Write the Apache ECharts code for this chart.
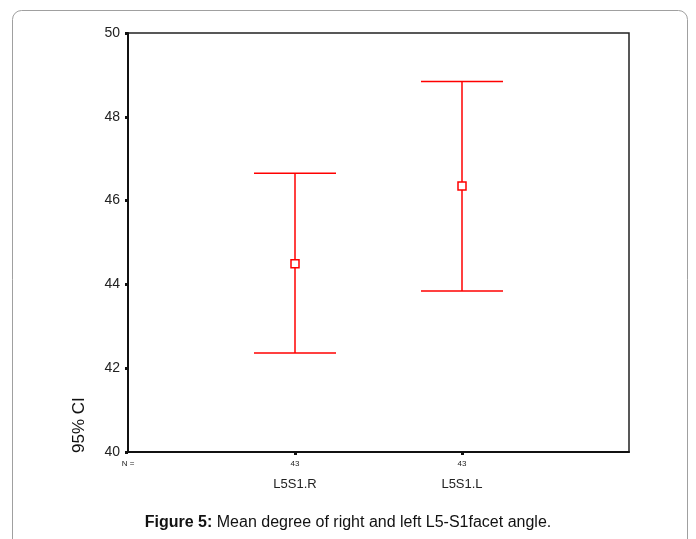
<!DOCTYPE html>
<html>
<head>
<meta charset="utf-8">
<script src="https://cdn.jsdelivr.net/npm/echarts@6/dist/echarts.min.js"></script>
<style>
html,body{margin:0;padding:0;background:#fff;}
#c{width:696px;height:539px;}
</style>
</head>
<body>
<div id="c"></div>
<script>
const categories = ['L5S1.R', 'L5S1.L'];
const means = [44.49, 46.35];
const lower = [42.36, 43.84];
const upper = [46.65, 48.84];
const nValues = [43, 43];
const yMin = 40, yMax = 50, yStep = 2;

const FONT = '"Liberation Sans", Arial, sans-serif';
const xCats = [''].concat(categories).concat(['']);

const chart = echarts.init(document.getElementById('c'), null, {renderer: 'canvas'});

const errData = categories.map((c, i) => [i + 1, lower[i], upper[i]]);
const meanData = categories.map((c, i) => [i + 1, means[i]]);

chart.setOption({
  animation: false,
  backgroundColor: '#fff',
  textStyle: {fontFamily: FONT},
  title: {
    text: '{b|Figure 5:} Mean degree of right and left L5-S1facet angle.',
    left: 'center',
    top: 510,
    textStyle: {
      fontFamily: FONT, fontSize: 16, fontWeight: 'normal', color: '#111',
      rich: {b: {fontFamily: FONT, fontSize: 16, fontWeight: 'bold', color: '#111'}}
    }
  },
  graphic: [
    {
      type: 'rect', silent: true,
      shape: {x: 12.5, y: 10.5, width: 675, height: 600, r: 9},
      style: {fill: 'none', stroke: '#a0a0a0', lineWidth: 1}
    },
    {
      type: 'text', silent: true,
      x: 71, y: 453, rotation: Math.PI / 2,
      style: {text: '95% CI', font: '17px ' + FONT, fill: '#111', textAlign: 'left', textVerticalAlign: 'top'}
    }
  ],
  grid: {left: 128, right: 67, top: 33, bottom: 87, show: true, borderColor: '#222', borderWidth: 1.5, backgroundColor: 'transparent'},
  xAxis: {
    type: 'category',
    data: xCats,
    boundaryGap: false,
    axisLine: {show: true, lineStyle: {color: '#111', width: 2}},
    axisTick: {
      show: true, length: 3, inside: false,
      interval: function (idx) { return idx >= 1 && idx <= categories.length; },
      lineStyle: {color: '#111', width: 3}
    },
    axisLabel: {
      interval: 0,
      margin: 6,
      formatter: function (v, idx) {
        if (idx === 0) return '{n|N =}';
        if (idx >= 1 && idx <= categories.length) return '{n|' + nValues[idx - 1] + '}\n{c|' + v + '}';
        return '';
      },
      rich: {
        n: {fontFamily: FONT, fontSize: 8, color: '#222', lineHeight: 12},
        c: {fontFamily: FONT, fontSize: 13, color: '#222', lineHeight: 28}
      }
    },
    splitLine: {show: false}
  },
  yAxis: {
    type: 'value',
    min: yMin, max: yMax, interval: yStep,
    axisLine: {show: true, lineStyle: {color: '#111', width: 2}},
    axisTick: {show: true, length: 3, inside: false, lineStyle: {color: '#111', width: 3}},
    axisLabel: {fontFamily: FONT, fontSize: 14, color: '#222', margin: 8},
    splitLine: {show: false}
  },
  series: [
    {
      type: 'custom',
      data: errData,
      z: 2,
      renderItem: function (params, api) {
        const x = api.value(0);
        const lo = api.coord([x, api.value(1)]);
        const hi = api.coord([x, api.value(2)]);
        const hw = 41;
        const style = {stroke: '#ff0000', lineWidth: 1.5};
        return {
          type: 'group',
          children: [
            {type: 'line', shape: {x1: lo[0], y1: lo[1], x2: hi[0], y2: hi[1]}, style: style},
            {type: 'line', shape: {x1: lo[0] - hw, y1: lo[1], x2: lo[0] + hw, y2: lo[1]}, style: style},
            {type: 'line', shape: {x1: hi[0] - hw, y1: hi[1], x2: hi[0] + hw, y2: hi[1]}, style: style}
          ]
        };
      }
    },
    {
      type: 'scatter',
      data: meanData,
      z: 3,
      symbol: 'rect',
      symbolSize: 8,
      itemStyle: {color: '#fff', borderColor: '#ff0000', borderWidth: 1.5, opacity: 1}
    }
  ]
});
</script>
</body>
</html>
